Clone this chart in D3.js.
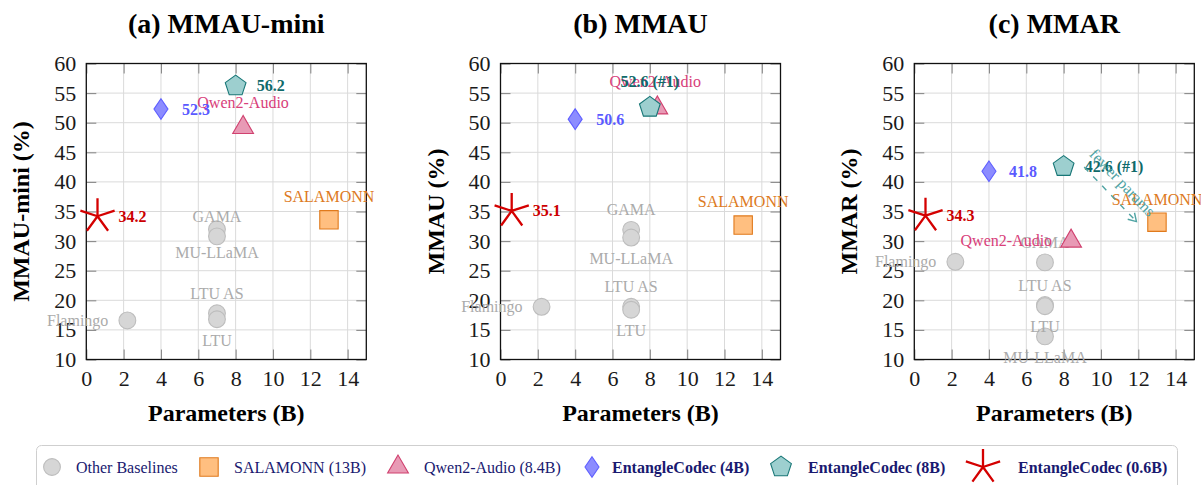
<!DOCTYPE html>
<html><head><meta charset="utf-8">
<script src="https://cdn.jsdelivr.net/npm/d3@7"></script>
<style>
body{margin:0;background:#fff}
svg{display:block}
text{font-family:"Liberation Serif","Times New Roman",serif}
</style>
</head><body>
<svg id="chart" width="1201" height="485"></svg>
<script>
// ---------------- DATA ----------------
const panelTitles = ["(a) MMAU-mini", "(b) MMAU", "(c) MMAR"];
const yAxisLabels = ["MMAU-mini (%)", "MMAU (%)", "MMAR (%)"];
const xAxisLabel = "Parameters (B)";
const xTickValues = [0, 2, 4, 6, 8, 10, 12, 14];
const yTickValues = [10, 15, 20, 25, 30, 35, 40, 45, 50, 55, 60];

const baselineNames = ["Flamingo", "GAMA", "MU-LLaMA", "LTU AS", "LTU"];
const baselineParams = [2.2, 7, 7, 7, 7];
const baselineScores = [
  [16.6, 32.0, 30.8, 17.8, 16.8],
  [18.9, 31.9, 30.6, 18.9, 18.4],
  [26.5, 26.4, 13.9, 19.2, 19.0]
];
const salmonnParams = 13;
const salmonnScores = [33.6, 32.7, 33.2];
const qwenParams = 8.4;
const qwenScores = [49.2, 52.5, 30.0];
const ent4Params = 4;
const ent4Scores = [52.3, 50.6, 41.8];
const ent8Params = 8;
const ent8Scores = [56.2, 52.6, 42.6];
const ent06Params = 0.6;
const ent06Scores = [34.2, 35.1, 34.3];
const ent4Labels = ["52.3", "50.6", "41.8"];
const ent8Labels = ["56.2", "52.6 (#1)", "42.6 (#1)"];
const ent06Labels = ["34.2", "35.1", "34.3"];

const legendLabels = ["Other Baselines", "SALAMONN (13B)", "Qwen2-Audio (8.4B)",
  "EntangleCodec (4B)", "EntangleCodec (8B)", "EntangleCodec (0.6B)"];

const arrowFrom = [9.1, 42.5];
const arrowTo = [11.9, 33.3];
const arrowText = "fewer params";

// ---------------- STYLE / LAYOUT ----------------
const FONT = '"Liberation Serif","Times New Roman",serif';
const svg = d3.select("#chart");
const panelLeft = [86.3, 500.5, 914.3];
const plotW = 280, plotTop = 63.5, plotBottom = 359.5;

const sty = {
  base:  {fill: "#d6d6d6", stroke: "#bdbdbd", text: "#ababab", shape: "circle", bold: false},
  salm:  {fill: "#ffbf80", stroke: "#e07a1c", text: "#dd7a22", shape: "square", bold: false},
  qwen:  {fill: "#e89ab5", stroke: "#d0416f", text: "#d8407a", shape: "triangle", bold: false},
  ent4:  {fill: "#8c8cff", stroke: "#5f5fff", text: "#5a5aff", shape: "diamond", bold: true},
  ent8:  {fill: "#9dcfcf", stroke: "#177676", text: "#0f6a6a", shape: "pentagon", bold: true},
  ent06: {fill: "none", stroke: "#d40000", text: "#cc0000", shape: "star", bold: true}
};

// label placement [anchor, dx, dy] per panel
const place = [
  {Flamingo:["end",-19,0], GAMA:["middle",0,-13], "MU-LLaMA":["middle",0,16], "LTU AS":["middle",0,-20], LTU:["middle",0,21],
   salm:["middle",0,-23], qwen:["middle",0,-25], ent4:["start",21,0], ent8:["start",21,0], ent06:["start",21,0]},
  {Flamingo:["end",-19,0], GAMA:["middle",0,-20], "MU-LLaMA":["middle",0,21], "LTU AS":["middle",0,-20], LTU:["middle",0,21],
   salm:["middle",0,-24], qwen:["middle",-2,-26], ent4:["start",21,0], ent8:["middle",0,-26], ent06:["start",21,0]},
  {Flamingo:["end",-19,0], GAMA:["middle",0,-20], "MU-LLaMA":["middle",0,21], "LTU AS":["middle",0,-20], LTU:["middle",0,20],
   salm:["middle",0,-23], qwen:["end",-19,-1], ent4:["start",20,0], ent8:["start",21,0], ent06:["start",21,0]}
];

function markerPath(shape) {
  const p = d3.path();
  if (shape === "circle") { p.arc(0, 0, 8.4, 0, 2 * Math.PI); }
  else if (shape === "square") { p.rect(-9.2, -9.2, 18.4, 18.4); }
  else if (shape === "triangle") {
    const R = 12;
    [90, 210, 330].forEach((a, i) => {
      const r = a * Math.PI / 180, x = R * Math.cos(r), y = -R * Math.sin(r);
      i ? p.lineTo(x, y) : p.moveTo(x, y);
    });
    p.closePath();
  } else if (shape === "diamond") {
    p.moveTo(0, -10.3); p.lineTo(7, 0); p.lineTo(0, 10.3); p.lineTo(-7, 0); p.closePath();
  } else if (shape === "pentagon") {
    const R = 10.9;
    for (let i = 0; i < 5; i++) {
      const r = (90 + 72 * i) * Math.PI / 180, x = R * Math.cos(r), y = -R * Math.sin(r);
      i ? p.lineTo(x, y) : p.moveTo(x, y);
    }
    p.closePath();
  } else if (shape === "star") {
    const R = 18;
    for (let i = 0; i < 5; i++) {
      const r = (90 + 72 * i) * Math.PI / 180;
      p.moveTo(0, 0); p.lineTo(R * Math.cos(r), -R * Math.sin(r));
    }
  }
  return p.toString();
}

function drawMarker(g, s, x, y) {
  g.append("path").attr("d", markerPath(s.shape))
    .attr("transform", `translate(${x},${y})`)
    .attr("fill", s.fill).attr("stroke", s.stroke)
    .attr("stroke-width", s.shape === "star" ? 2.3 : 1.1)
    .attr("stroke-linejoin", "miter");
}

function drawLabel(g, s, x, y, txt, pl) {
  g.append("text").attr("x", x + pl[1]).attr("y", y + pl[2])
    .attr("text-anchor", pl[0]).attr("dominant-baseline", "central")
    .style("font-family", FONT)
    .attr("font-size", 16).attr("font-weight", s.bold ? "bold" : "normal")
    .attr("fill", s.text).text(txt);
}

panelTitles.forEach((title, pi) => {
  const L = panelLeft[pi];
  const x = d3.scaleLinear().domain([0, 15]).range([L, L + plotW]);
  const y = d3.scaleLinear().domain([10, 60]).range([plotBottom, plotTop]);
  const g = svg.append("g");

  // grid
  g.append("g").selectAll("line").data(xTickValues).join("line")
    .attr("x1", d => x(d)).attr("x2", d => x(d)).attr("y1", plotTop).attr("y2", plotBottom)
    .attr("stroke", "#dadada").attr("stroke-width", 1);
  g.append("g").selectAll("line").data(yTickValues).join("line")
    .attr("y1", d => y(d)).attr("y2", d => y(d)).attr("x1", L).attr("x2", L + plotW)
    .attr("stroke", "#dadada").attr("stroke-width", 1);

  // axes
  const styleAxis = (sel) => {
    sel.attr("font-family", null).attr("font-size", null);
    sel.select(".domain").remove();
    sel.selectAll(".tick line").attr("stroke", "#8a8a8a").attr("stroke-width", 1.1);
    sel.selectAll(".tick text").attr("fill", "#1a1a1a")
      .style("font-family", FONT).style("font-size", "22px");
  };
  g.append("g").attr("transform", `translate(0,${plotBottom})`)
    .call(d3.axisBottom(x).tickValues(xTickValues).tickSizeInner(-10).tickSizeOuter(0).tickPadding(11))
    .call(styleAxis);
  g.append("g").attr("transform", `translate(0,${plotTop})`)
    .call(d3.axisTop(x).tickValues(xTickValues).tickSizeInner(-10).tickSizeOuter(0).tickFormat(""))
    .call(styleAxis);
  g.append("g").attr("transform", `translate(${L},0)`)
    .call(d3.axisLeft(y).tickValues(yTickValues).tickSizeInner(-10).tickSizeOuter(0).tickPadding(10))
    .call(styleAxis);
  g.append("g").attr("transform", `translate(${L + plotW},0)`)
    .call(d3.axisRight(y).tickValues(yTickValues).tickSizeInner(-10).tickSizeOuter(0).tickFormat(""))
    .call(styleAxis);

  g.append("rect").attr("x", L).attr("y", plotTop).attr("width", plotW).attr("height", plotBottom - plotTop)
    .attr("fill", "none").attr("stroke", "#111").attr("stroke-width", 1.3);

  // titles
  g.append("text").attr("x", L + plotW / 2).attr("y", 33).attr("text-anchor", "middle").style("font-family", FONT)
    .attr("font-size", 28).attr("font-weight", "bold").attr("fill", "#000").text(title);
  g.append("text").attr("x", L + plotW / 2).attr("y", 421).attr("text-anchor", "middle").style("font-family", FONT)
    .attr("font-size", 24).attr("font-weight", "bold").attr("fill", "#000").text(xAxisLabel);
  g.append("text").attr("transform", `translate(${L - 57},${(plotTop + plotBottom) / 2}) rotate(-90)`)
    .attr("text-anchor", "middle").style("font-family", FONT)
    .attr("font-size", 24).attr("font-weight", "bold").attr("fill", "#000")
    .text(yAxisLabels[pi]);

  const pl = place[pi];
  baselineNames.forEach((n, i) => {
    const px = x(baselineParams[i]), py = y(baselineScores[pi][i]);
    drawMarker(g, sty.base, px, py);
    drawLabel(g, sty.base, px, py, n, pl[n]);
  });
  {
    const px = x(salmonnParams), py = y(salmonnScores[pi]);
    drawMarker(g, sty.salm, px, py);
    drawLabel(g, sty.salm, px, py, "SALAMONN", pl.salm);
  }
  {
    const px = x(qwenParams), py = y(qwenScores[pi]);
    drawMarker(g, sty.qwen, px, py);
    drawLabel(g, sty.qwen, px, py, "Qwen2-Audio", pl.qwen);
  }
  {
    const px = x(ent4Params), py = y(ent4Scores[pi]);
    drawMarker(g, sty.ent4, px, py);
    drawLabel(g, sty.ent4, px, py, ent4Labels[pi], pl.ent4);
  }
  {
    const px = x(ent8Params), py = y(ent8Scores[pi]);
    drawMarker(g, sty.ent8, px, py);
    drawLabel(g, sty.ent8, px, py, ent8Labels[pi], pl.ent8);
  }
  {
    const px = x(ent06Params), py = y(ent06Scores[pi]);
    drawMarker(g, sty.ent06, px, py);
    drawLabel(g, sty.ent06, px, py, ent06Labels[pi], pl.ent06);
  }

  if (pi === 2) {
    const x1 = x(arrowFrom[0]), y1 = y(arrowFrom[1]), x2 = x(arrowTo[0]), y2 = y(arrowTo[1]);
    const col = "#4fa3a3";
    g.append("line").attr("x1", x1).attr("y1", y1).attr("x2", x2).attr("y2", y2)
      .attr("stroke", col).attr("stroke-width", 1.4).attr("stroke-dasharray", "6,7");
    const ang = Math.atan2(y2 - y1, x2 - x1);
    const hl = 9, ha = 0.55;
    const hp = d3.path();
    hp.moveTo(x2 - hl * Math.cos(ang - ha), y2 - hl * Math.sin(ang - ha));
    hp.lineTo(x2, y2);
    hp.lineTo(x2 - hl * Math.cos(ang + ha), y2 - hl * Math.sin(ang + ha));
    g.append("path").attr("d", hp.toString()).attr("fill", "none").attr("stroke", col).attr("stroke-width", 1.4);
    const mx = (x1 + x2) / 2, my = (y1 + y2) / 2;
    g.append("text").attr("transform", `translate(${mx},${my}) rotate(${ang * 180 / Math.PI})`)
      .attr("y", -17).attr("text-anchor", "middle").attr("dominant-baseline", "central").style("font-family", FONT)
      .attr("font-size", 16).attr("fill", col).text(arrowText);
  }
});

// ---------------- LEGEND ----------------
const lg = svg.append("g");
lg.append("rect").attr("x", 36.5).attr("y", 445.5).attr("width", 1141).attr("height", 70).attr("rx", 5)
  .attr("fill", "#fff").attr("stroke", "#cfcfcf").attr("stroke-width", 1);
const legendStyles = [sty.base, sty.salm, sty.qwen, sty.ent4, sty.ent8, sty.ent06];
const legendMarkerX = [52, 209, 398, 592, 781, 983];
const legendTextX = [76, 234, 424, 612, 808, 1018];
const legendY = 467;
legendLabels.forEach((t, i) => {
  drawMarker(lg, legendStyles[i], legendMarkerX[i], legendY);
  lg.append("text").attr("x", legendTextX[i]).attr("y", legendY).attr("dominant-baseline", "central")
    .style("font-family", FONT)
    .attr("font-size", 16).attr("font-weight", i >= 3 ? "bold" : "normal").attr("fill", "#191970").text(t);
});
</script>
</body></html>
